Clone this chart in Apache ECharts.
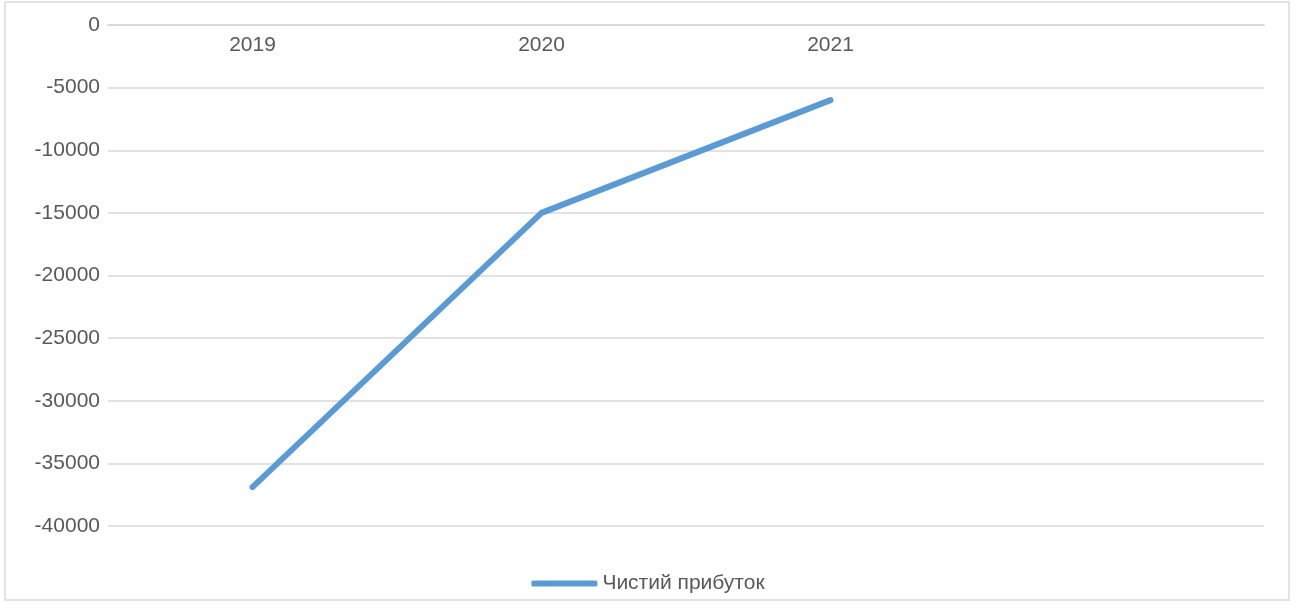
<!DOCTYPE html>
<html><head><meta charset="utf-8">
<script src="https://cdn.jsdelivr.net/npm/echarts@6/dist/echarts.min.js"></script>
<style>html,body{margin:0;padding:0;background:#fff}#c{width:1296px;height:604px}</style>
</head><body><div id="c"></div>
<script>
const categories = ['2019', '2020', '2021', ''];
const seriesName = 'Чистий прибуток';
const profit = [-36900, -15000, -6000, null];
const yTicks = { min: -40000, max: 0, interval: 5000 };

const chart = echarts.init(document.getElementById('c'));
const font = 'Liberation Sans, Arial, sans-serif';
chart.setOption({
  animation: false,
  graphic: [{ type: 'rect', shape: { x: 5, y: 2, width: 1284, height: 598 }, style: { fill: 'none', stroke: '#d9d9d9', lineWidth: 1.5 }, silent: true }],
  grid: { left: 108, right: 32, top: 25, bottom: 78 },
  xAxis: {
    type: 'category', data: categories, position: 'top', boundaryGap: true,
    axisLine: { show: true, lineStyle: { color: '#d9d9d9', width: 2 } },
    axisTick: { show: false },
    axisLabel: { inside: true, margin: 10, color: '#595959', fontSize: 21, fontFamily: font }
  },
  yAxis: {
    type: 'value', min: yTicks.min, max: yTicks.max, interval: yTicks.interval,
    axisLine: { show: false }, axisTick: { show: false },
    axisLabel: { margin: 8, color: '#595959', fontSize: 21, fontFamily: font, formatter: v => String(v) },
    splitLine: { lineStyle: { color: '#d9d9d9', width: 1.5 } }
  },
  legend: {
    bottom: 5, left: 'center', itemWidth: 66, itemHeight: 6, itemGap: 8,
    icon: 'roundRect',
    textStyle: { color: '#595959', fontSize: 21, fontFamily: font },
    data: [seriesName]
  },
  series: [{
    name: seriesName, type: 'line', data: profit, showSymbol: false, symbol: 'none',
    lineStyle: { color: '#5B9BD5', width: 6, cap: 'round', join: 'round' },
    itemStyle: { color: '#5B9BD5' }
  }]
});
</script></body></html>
